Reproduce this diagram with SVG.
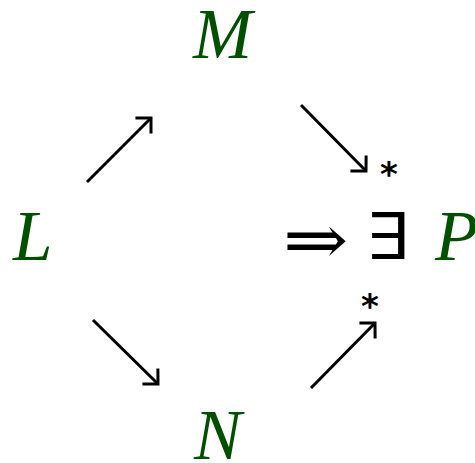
<svg xmlns="http://www.w3.org/2000/svg" width="475" height="463" viewBox="0 0 475 463">
<defs>
<style>
.v{font-family:"Liberation Serif","DejaVu Serif",serif;font-style:italic;font-size:71px;fill:#005000}
.s{font-family:"DejaVu Serif","Liberation Serif",serif;fill:#000}
.a{font-family:"DejaVu Sans",sans-serif;font-weight:bold;font-size:34px;fill:#000}
.c{stroke:#000;stroke-width:3;fill:none}
</style>
<marker id="ah" markerWidth="30" markerHeight="30" refX="0" refY="0" orient="auto" markerUnits="userSpaceOnUse" viewBox="-15 -15 30 30">
<path d="M-11,-11 L0,0 L-11,11" fill="none" stroke="#000" stroke-width="3"/>
</marker>
</defs>
<rect width="475" height="463" fill="#fff"/>
<g id="M"><text class="v" x="193" y="58">M</text></g>
<g id="L"><text class="v" x="13" y="260">L</text></g>
<g id="N"><text class="v" x="194" y="459">N</text></g>
<g id="P"><text class="v" x="435" y="260">P</text></g>
<g id="exists">
<text class="s" x="283" y="264" font-size="78" transform="translate(283,264) scale(1,0.9) translate(-283,-264)">⇒</text>
<text class="s" x="367" y="259" font-size="64" transform="translate(367,0) scale(1.25,1) translate(-367,0)">∃</text>
</g>
<g id="connectors">
<path class="c" d="M87,182 L151,118" marker-end="url(#ah)"/>
<path class="c" d="M301,105 L366,171" marker-end="url(#ah)"/>
<path class="c" d="M93,320 L158,384" marker-end="url(#ah)"/>
<path class="c" d="M311,388 L375,323" marker-end="url(#ah)"/>
<text class="a" x="380" y="186">*</text>
<text class="a" x="361" y="318">*</text>
</g>
</svg>
